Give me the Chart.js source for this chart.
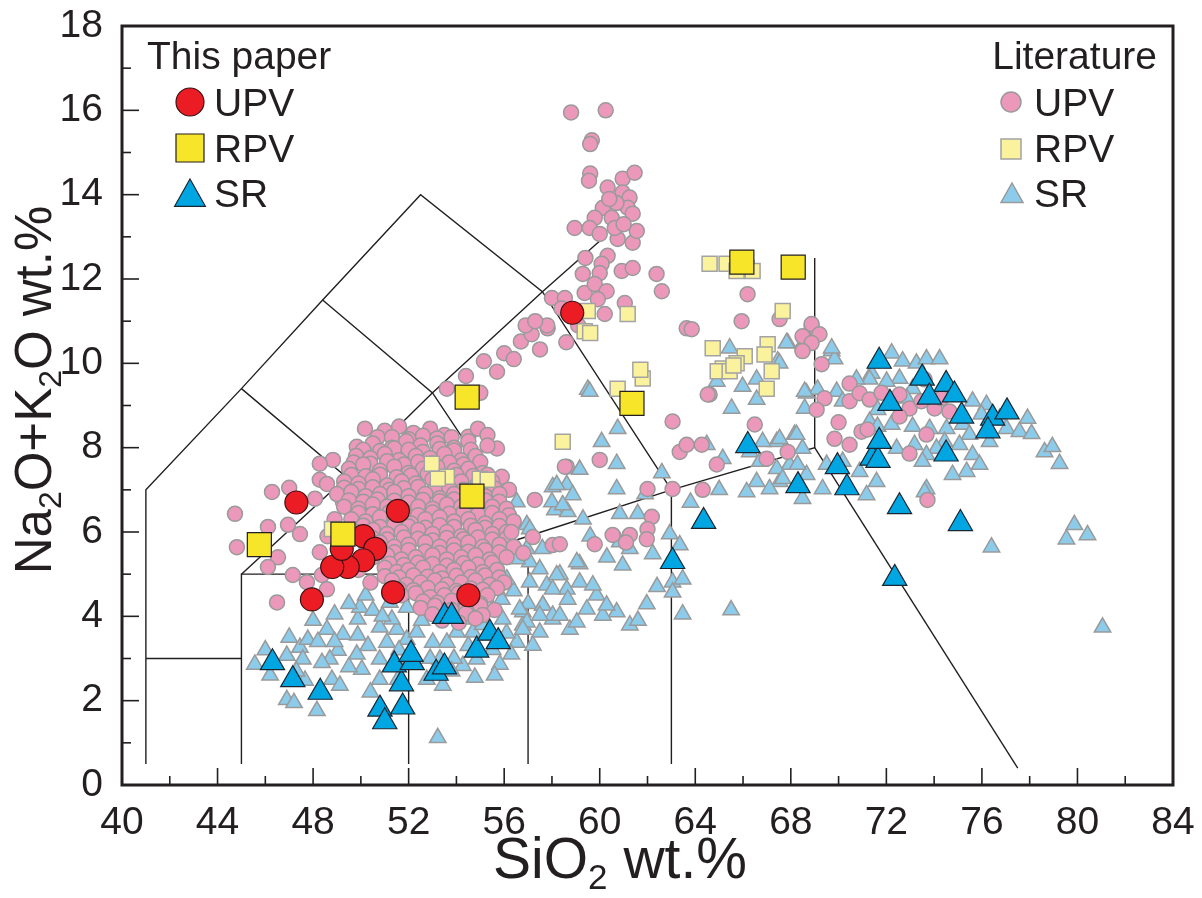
<!DOCTYPE html>
<html>
<head>
<meta charset="utf-8">
<script src="https://cdn.jsdelivr.net/npm/chart.js@4.4.1/dist/chart.umd.min.js"></script>
<style>
  html, body { margin: 0; padding: 0; background: #fff; }
  canvas { display: block; }
</style>
</head>
<body>
<canvas id="tas" width="1202" height="898"></canvas>
<script>
// --- data (SiO2, Na2O+K2O) ---
const xTicks = [40, 44, 48, 52, 56, 60, 64, 68, 72, 76, 80, 84];
const yTicks = [0, 2, 4, 6, 8, 10, 12, 14, 16, 18];

const thisUPV = [[47.3,6.7],[51.55,6.5],[50.1,5.9],[50.6,5.6],[50.1,5.33],[49.45,5.17],[48.8,5.17],
  [49.2,5.6],[47.95,4.4],[51.35,4.57],[54.5,4.5],[58.85,11.2]];
const thisRPV = [[45.75,5.7],[49.25,5.95],[54.45,9.2],[54.65,6.85],[61.35,9.05],[65.95,12.4],[68.1,12.28]];
const thisSR = [[46.3,2.9],[47.15,2.5],[48.3,2.2],[50.8,1.8],[51.0,1.5],[51.75,1.85],[51.7,2.4],[51.4,2.85],
  [52.15,2.9],[52.1,3.1],[53.15,2.65],[53.5,2.8],[53.5,4.0],[53.8,4.0],[54.85,3.2],[55.4,3.6],[55.75,3.4],
  [63.05,5.3],[64.35,6.25],[66.2,8.05],[68.3,7.1],[70.35,7.05],[69.95,7.55],[71.4,7.75],[71.65,7.7],
  [71.7,8.15],[71.7,10.05],[72.15,9.05],[73.5,9.65],[74.5,9.5],[74.85,9.25],[73.8,9.2],[75.15,8.75],
  [76.45,8.7],[77.05,8.85],[76.25,8.4],[74.5,7.85],[72.55,6.6],[75.1,6.2],[72.35,4.9]];

const litUPV = [
  // high-alkali group
  [58.8,15.95],[60.25,16.0],[59.67,15.29],[59.6,15.2],[59.6,14.5],[59.55,14.33],[60.33,14.17],[60.96,14.38],
  [61.46,14.52],[60.96,14.05],[61.25,13.93],[60.13,13.69],[61.17,13.69],[60.5,13.45],[59.79,13.45],[61.38,13.55],
  [58.95,13.21],[59.58,13.21],[60.0,13.07],[60.75,12.95],[61.38,12.86],[61.55,13.14],[60.63,13.21],[60.7,13.8],
  [61.0,13.3],[60.4,13.9],[60.33,12.55],[60.08,12.36],[59.29,12.12],[60.0,12.14],[60.92,12.19],[61.38,12.26],
  [62.38,12.12],[62.6,11.71],[59.37,11.67],[59.79,11.88],[60.29,11.71],[59.92,11.52],[60.21,11.17],[58.0,11.55],
  [58.54,11.55],[61.05,11.43],[57.82,10.83],[63.64,10.83],[58.4,11.3],[59.1,10.9],[58.6,10.5],[59.4,12.5],
  [53.6,9.4],[54.4,9.7],[55.15,10.05],[56.0,10.24],[56.7,10.52],[57.15,10.69],[57.5,10.33],[56.4,10.1],
  [55.7,9.8],[57.8,10.9],[55.0,9.3],[56.9,10.9],[57.3,11.0],
  // scattered around the basaltic group
  [50.17,8.45],[49.83,8.02],[48.83,7.71],[48.28,7.62],[48.28,7.24],[48.58,7.14],[46.28,6.95],[44.73,6.43],
  [46.11,6.12],[46.95,6.17],[47.45,5.95],[44.81,5.64],[46.53,5.4],[46.11,5.17],[47.15,4.98],[47.74,4.81],
  [48.37,4.98],[48.58,4.64],[46.49,4.33],[48.28,5.52],[48.08,6.79],[49.25,6.71],[47.0,7.05],[48.9,6.3],[48.6,5.9],
  [54.5,8.26],[54.9,8.45],[55.3,8.3],[55.7,7.98],[55.3,8.05],[55.9,7.31],[55.4,6.83],[56.2,7.0],
  // dense basaltic group
  [51.0,8.4],[51.6,8.5],[52.2,8.35],[52.9,8.45],[53.5,8.3],
  [50.7,8.25],[51.3,8.25],[52.0,8.2],[52.6,8.28],[53.2,8.22],[53.8,8.25],
  [50.5,8.1],[51.3,8.0],[51.9,8.15],[52.5,8.05],[53.2,8.1],[53.9,8.0],[54.5,8.15],
  [50.1,7.95],[50.8,7.92],[51.4,7.98],[52.0,7.95],[52.6,7.9],[53.3,7.97],[53.9,7.93],[54.6,7.95],
  [49.8,7.8],[50.4,7.75],[51.0,7.85],[51.6,7.7],[52.3,7.8],[52.9,7.75],[53.5,7.85],[54.2,7.7],[54.8,7.8],
  [49.7,7.65],[50.4,7.62],[51.1,7.68],[51.8,7.6],[52.4,7.66],[53.0,7.63],[53.7,7.65],[54.3,7.6],[55.0,7.66],
  [49.5,7.5],[50.1,7.6],[50.8,7.45],[51.4,7.55],[52.0,7.4],[52.6,7.5],[53.2,7.55],[53.9,7.45],[54.5,7.5],[55.1,7.4],
  [49.6,7.35],[50.2,7.32],[50.8,7.36],[51.5,7.3],[52.1,7.34],[52.8,7.38],[53.4,7.3],[54.0,7.35],[54.7,7.33],[55.3,7.36],
  [49.3,7.2],[49.9,7.15],[50.5,7.25],[51.1,7.1],[51.7,7.2],[52.3,7.15],[53.0,7.25],[53.6,7.1],[54.2,7.2],[54.9,7.15],[55.5,7.2],
  [49.3,7.05],[49.9,7.02],[50.5,7.06],[51.2,7.0],[51.8,7.04],[52.4,7.07],[53.1,7.02],[53.7,7.05],[54.3,7.0],[55.0,7.05],[55.6,7.03],
  [49.0,6.9],[49.6,6.95],[50.2,6.85],[50.8,6.9],[51.4,6.95],[52.0,6.85],[52.7,6.9],[53.3,6.8],[53.9,6.9],[54.5,6.95],[55.2,6.85],[55.8,6.9],
  [49.5,6.75],[50.1,6.72],[50.7,6.77],[51.4,6.74],[52.0,6.7],[52.6,6.76],[53.3,6.73],[53.9,6.77],[54.5,6.72],[55.2,6.75],[55.8,6.72],
  [49.3,6.6],[49.9,6.55],[50.5,6.65],[51.1,6.6],[51.8,6.5],[52.4,6.6],[53.0,6.55],[53.6,6.65],[54.2,6.6],[54.8,6.5],[55.5,6.6],[56.1,6.55],
  [49.9,6.45],[50.5,6.42],[51.2,6.47],[51.8,6.44],[52.4,6.4],[53.0,6.46],[53.7,6.43],[54.3,6.47],[54.9,6.42],[55.5,6.45],[56.2,6.4],
  [49.6,6.3],[50.2,6.25],[50.8,6.35],[51.4,6.3],[52.1,6.2],[52.7,6.3],[53.3,6.35],[53.9,6.25],[54.5,6.3],[55.2,6.2],[55.8,6.3],[56.4,6.25],
  [50.1,6.15],[50.8,6.12],[51.4,6.17],[52.0,6.13],[52.7,6.1],[53.3,6.16],[53.9,6.12],[54.6,6.15],[55.2,6.1],[55.8,6.14],
  [49.8,6.0],[50.5,6.05],[51.1,5.95],[51.7,6.0],[52.4,6.05],[53.0,5.95],[53.6,6.0],[54.2,5.9],[54.8,6.05],[55.5,5.95],[56.1,6.0],
  [50.5,5.85],[51.1,5.82],[51.8,5.87],[52.4,5.84],[53.0,5.8],[53.6,5.86],[54.3,5.83],[54.9,5.87],[55.5,5.82],[56.1,5.85],
  [50.2,5.7],[50.8,5.75],[51.4,5.65],[52.0,5.7],[52.7,5.75],[53.3,5.65],[53.9,5.7],[54.5,5.75],[55.1,5.65],[55.8,5.7],[56.4,5.65],
  [50.8,5.55],[51.4,5.52],[52.0,5.57],[52.7,5.54],[53.3,5.5],[53.9,5.56],[54.5,5.53],[55.2,5.57],[55.8,5.52],
  [50.5,5.4],[51.1,5.45],[51.7,5.35],[52.3,5.4],[53.0,5.45],[53.6,5.35],[54.2,5.4],[54.8,5.45],[55.4,5.35],[56.1,5.4],
  [51.2,5.25],[51.8,5.22],[52.4,5.27],[53.0,5.24],[53.6,5.2],[54.3,5.26],[54.9,5.23],[55.5,5.27],
  [49.9,5.1],[51.0,5.15],[51.5,5.05],[52.0,5.1],[52.6,5.15],[53.3,5.05],[53.9,5.1],[54.5,5.15],[55.1,5.05],[55.7,5.1],
  [51.0,4.95],[51.6,4.92],[52.2,4.97],[52.8,4.94],[53.4,4.9],[54.0,4.96],[54.6,4.93],[55.2,4.97],[55.8,4.92],
  [50.4,4.8],[51.3,4.85],[51.9,4.75],[52.5,4.8],[53.1,4.85],[53.6,4.75],[54.2,4.8],[54.8,4.85],[55.4,4.75],[56.0,4.8],
  [51.6,4.65],[52.2,4.62],[52.8,4.67],[53.4,4.64],[54.0,4.6],[54.6,4.66],[55.1,4.63],[55.7,4.67],
  [51.7,4.5],[52.3,4.55],[52.9,4.45],[53.5,4.5],[54.1,4.55],[54.7,4.45],[55.3,4.5],
  [52.6,4.35],[53.2,4.32],[53.8,4.37],[54.4,4.34],[55.0,4.3],
  [52.5,4.2],[53.1,4.25],[53.8,4.15],[54.4,4.2],[55.0,4.25],[55.6,4.15],
  [53.0,4.05],[53.7,4.02],[54.4,4.07],[55.1,4.03],
  [53.4,3.9],[54.1,3.85],[54.8,3.95],
  // intermediate
  [58.62,7.55],[60.0,7.71],[57.28,6.76],[62.0,7.02],[63.05,7.02],[64.31,7.0],[64.6,9.26],[63.05,8.62],
  [63.35,7.9],[64.27,8.07],[63.64,8.07],[64.9,7.6],[62.18,6.36],[62.0,6.07],[60.54,5.93],[61.26,5.93],
  [61.97,5.83],[59.79,5.71],[61.1,5.75],[58.03,5.69],[58.33,5.71],[57.2,5.88],[58.54,7.55],[56.3,6.0],[56.8,5.5],
  [66.19,11.64],[65.94,11.0],[63.85,10.81],[67.53,11.05],[68.87,10.88],[69.08,10.69],[68.58,10.6],[68.49,10.33],
  [69.29,9.98],[64.52,9.26],[66.49,8.55],[68.87,10.93],[68.49,10.64],[69.2,10.69],[68.87,10.48],[68.49,10.29],
  // silicic
  [70.46,9.52],[69.41,9.17],[69.08,8.9],[70.46,9.1],[70.88,9.29],[71.3,9.14],[69.83,8.21],[70.46,8.07],
  [70.96,8.38],[71.21,8.43],[72.55,9.26],[72.97,8.93],[73.47,9.1],[74.02,8.93],[73.6,9.62],[72.55,8.74],
  [73.68,8.31],[72.97,7.86],[67.87,7.9],[66.99,7.74],[73.72,6.76],[74.64,8.86],[74.31,9.17],[70.0,8.6],[71.8,9.3]
];

const litRPV = [[59.5,11.24],[61.17,11.17],[59.37,10.76],[59.6,10.72],[64.6,12.36],[65.31,12.36],[66.15,12.26],
  [66.4,12.19],[65.73,12.19],[67.66,11.24],[64.73,10.36],[67.03,10.45],[66.9,10.21],[66.07,10.17],[65.73,10.0],
  [65.15,9.88],[64.94,9.81],[65.44,9.81],[67.2,9.81],[66.99,9.4],[61.8,9.64],[60.75,9.4],[58.45,8.14],
  [52.97,7.62],[53.6,7.31],[53.22,7.26],[54.98,7.26],[55.31,7.24],[48.79,6.07],[61.7,9.85],[65.6,9.95]];

const litSR = [
  [45.56,2.86],[46.9,3.07],[47.45,3.26],[47.78,3.45],[48.58,3.69],[49.25,3.57],[49.87,3.93],[49.96,4.21],
  [50.5,4.14],[49.87,3.55],[49.83,3.1],[49.04,3.19],[48.7,2.98],[48.37,2.9],[47.57,2.98],[47.66,2.48],
  [46.9,2.02],[48.16,1.76],[48.79,2.5],[49.12,2.36],[50.04,2.74],[50.79,2.98],[51.09,3.38],[50.79,3.74],
  [51.51,3.69],[51.92,3.45],[51.3,3.93],[52.34,3.62],[52.55,3.9],[53.01,3.38],[53.6,3.38],[53.31,2.98],
  [53.43,2.36],[52.76,2.5],[51.55,2.5],[50.79,2.5],[53.22,1.12],[54.77,2.55],[54.27,2.83],[54.85,2.98],
  [55.82,2.86],[55.52,3.21],[56.53,3.38],[57.2,3.31],[57.49,3.62],[56.78,3.79],[56.78,4.1],[57.62,4.26],
  [58.03,3.93],[54.02,3.62],[54.69,3.62],[54.44,3.93],[55.52,4.17],[52.76,4.26],[51.92,4.21],[51.21,4.33],
  [47.0,3.5],[46.2,2.6],[48.0,3.9],[48.9,4.05],[50.3,3.3],[50.2,4.5],[52.0,3.0],[55.1,3.8],[56.1,3.6],
  [55.9,4.4],[53.9,3.0],[46.0,3.2],[47.2,1.95],[49.5,2.8],
  [48.2,3.4],[49.5,4.3],[50.9,4.0],[51.6,3.2],[52.9,3.0],[53.4,4.1],[54.5,3.3],[55.6,2.6],[56.3,3.1],
  [57.0,4.3],[56.4,4.6],[48.9,3.4],[47.3,2.7],[50.4,2.2],[53.8,2.7],
  [59.5,9.38],[60.75,8.45],[60.08,8.14],[60.71,7.62],[59.16,7.48],[58.03,7.07],[58.62,7.12],[58.87,6.88],
  [60.71,7.02],[58.12,6.52],[58.66,6.48],[60.84,6.43],[61.59,6.43],[60.84,5.76],[61.26,5.6],[60.96,5.21],
  [62.22,5.48],[62.93,5.95],[63.35,5.69],[63.05,4.81],[63.47,4.88],[63.05,4.57],[63.47,4.05],[61.97,4.29],
  [61.26,3.79],[60.71,4.1],[59.87,4.5],[59.16,5.24],[58.33,5.0],[57.78,4.74],[58.62,4.64],[59.46,4.17],
  [60.13,4.02],[57.07,5.29],[57.07,4.81],[57.62,4.26],[58.03,4.02],[58.75,3.69],[56.95,3.86],[64.31,6.31],
  [56.95,6.17],[59.58,9.33],[58.2,7.12],[58.0,6.71],[58.45,6.64],[56.53,6.71],[55.94,6.4],[57.07,6.07],
  [56.23,5.83],[56.95,5.6],[56.53,5.36],[57.49,5.12],[58.2,4.98],[59.04,5.29],[59.16,4.81],[59.71,4.74],
  [60.29,4.26],[58.66,4.4],[58.03,4.64],[56.11,4.88],[55.52,5.12],[55.69,4.64],[56.65,4.17],[57.49,4.02],
  [58.33,4.02],[59.04,3.86],[55.94,3.93],[56.78,3.69],[55.3,5.6],[55.8,6.0],[57.6,5.6],[59.6,5.9],[60.3,5.4],
  [59.3,6.3],[62.4,4.7],[65.5,4.15],[61.6,3.9],
  [67.87,10.48],[69.71,10.29],[69.83,10.1],[68.66,9.29],[69.12,9.38],[69.92,9.33],[70.17,9.1],[72.22,10.24],
  [72.68,10.05],[72.55,9.64],[73.26,10.0],[73.68,10.1],[74.23,10.1],[71.38,9.76],[71.3,9.62],[72.01,9.57],
  [70.75,9.62],[73.1,9.4],[72.85,9.17],[71.63,8.9],[71.3,8.62],[71.63,8.5],[72.22,8.55],[73.1,8.5],
  [73.81,8.45],[74.52,8.45],[75.19,8.55],[75.61,9.1],[76.19,9.02],[75.98,8.79],[76.74,8.69],[77.03,8.45],
  [77.57,8.38],[77.91,8.69],[78.08,8.33],[75.48,8.31],[76.32,8.14],[75.06,8.07],[74.44,8.14],[74.1,7.98],
  [73.68,7.83],[73.18,8.07],[72.43,7.98],[75.61,7.83],[75.9,7.6],[75.36,7.43],[74.77,7.36],[73.51,7.67],
  [78.62,7.9],[78.95,8.02],[79.25,7.62],[73.68,7.02],[79.87,6.17],[80.42,5.93],[79.54,5.83],[76.4,5.64],
  [81.05,3.74],[67.45,10.05],[68.58,8.93],[68.16,8.31],[67.41,8.14],[68.49,7.98],[67.95,7.6],[67.53,7.19],
  [68.66,7.36],[69.5,7.6],[70.17,7.67],[70.88,7.43],[71.59,7.19],[69.33,7.02],[71.17,6.88],[73.6,6.95],
  [65.44,10.36],[65.52,8.93],[67.82,10.48],[69.71,10.36],[68.58,9.33],[64.9,9.57],[65.98,9.45],[66.57,9.62],
  [66.57,9.14],[67.53,10.0],[67.53,8.21],[68.24,8.31],[66.82,8.14],[66.28,7.9],[66.7,7.67],[67.41,7.5],
  [68.28,7.6],[66.57,7.19],[67.11,7.02],[65.15,7.74],[66.15,6.95],[68.49,6.79],[67.66,7.26],[64.48,8.07],
  [62.6,7.4],[61.9,6.9],[65.0,7.0],[63.8,6.7]
];

// TAS field boundaries (Le Bas et al., 1986)
const tasLines = [
  [[41,0.5],[41,7],[45,9.4],[48.4,11.5],[52.5,14],[57.6,11.7],[63,7]],
  [[41,3],[45,3]],
  [[45,0.5],[45,5],[52,5]],
  [[45,5],[49.4,7.3],[53,9.3],[57.6,11.7],[60,12.9]],
  [[45,9.4],[49.4,7.3],[52,5]],
  [[48.4,11.5],[53,9.3],[57,5.9]],
  [[52,0.5],[52,5],[57,5.9],[63,7],[69,8],[69,12.5]],
  [[57,0.5],[57,5.9]],
  [[63,0.5],[63,7]],
  [[69,8],[77.5,0.4]]
];

const INK = '#231f20';
const SANS = "'Liberation Sans', Arial, sans-serif";

const pts = (arr) => arr.map(([x, y]) => ({ x, y }));

const tasPlugin = {
  id: 'tasLines',
  beforeDatasetsDraw(chart) {
    const { ctx, scales: { x, y } } = chart;
    ctx.save();
    ctx.strokeStyle = INK;
    ctx.lineWidth = 1.4;
    tasLines.forEach((line) => {
      ctx.beginPath();
      line.forEach(([sx, sy], i) => {
        const px = x.getPixelForValue(sx);
        const py = y.getPixelForValue(sy);
        if (i === 0) ctx.moveTo(px, py); else ctx.lineTo(px, py);
      });
      ctx.stroke();
    });
    ctx.restore();
  },
};

// text with subscripts, parts: [text, isSub]
const drawRich = (ctx, parts, size, cx, cy) => {
  const subSize = Math.round(size * 0.62);
  let total = 0;
  parts.forEach(([t, sub]) => {
    ctx.font = (sub ? subSize : size) + 'px ' + SANS;
    total += ctx.measureText(t).width;
  });
  let xx = cx - total / 2;
  ctx.textAlign = 'left';
  ctx.textBaseline = 'alphabetic';
  parts.forEach(([t, sub]) => {
    ctx.font = (sub ? subSize : size) + 'px ' + SANS;
    ctx.fillText(t, xx, cy + (sub ? size * 0.2 : 0));
    xx += ctx.measureText(t).width;
  });
};

const marker = (ctx, kind, cx, cy, r, fill, stroke, lw) => {
  ctx.beginPath();
  if (kind === 'circle') {
    ctx.arc(cx, cy, r, 0, Math.PI * 2);
  } else if (kind === 'rect') {
    ctx.rect(cx - r, cy - r, 2 * r, 2 * r);
  } else {
    ctx.moveTo(cx, cy - r);
    ctx.lineTo(cx + r * 1.1, cy + r * 0.95);
    ctx.lineTo(cx - r * 1.1, cy + r * 0.95);
    ctx.closePath();
  }
  ctx.fillStyle = fill;
  ctx.fill();
  ctx.strokeStyle = stroke;
  ctx.lineWidth = lw;
  ctx.stroke();
};

const framePlugin = {
  id: 'frame',
  afterDraw(chart) {
    const { ctx, chartArea: a, scales: { x, y } } = chart;
    ctx.save();
    ctx.strokeStyle = INK;
    ctx.lineWidth = 1.6;
    // inward ticks
    for (let v = 40; v <= 84; v += 2) {
      const px = x.getPixelForValue(v);
      const len = v % 4 === 0 ? 17 : 9;
      ctx.beginPath();
      ctx.moveTo(px, a.bottom);
      ctx.lineTo(px, a.bottom - len);
      ctx.stroke();
    }
    for (let v = 0; v <= 18; v += 1) {
      const py = y.getPixelForValue(v);
      const len = v % 2 === 0 ? 17 : 9;
      ctx.beginPath();
      ctx.moveTo(a.left, py);
      ctx.lineTo(a.left + len, py);
      ctx.stroke();
    }
    ctx.lineWidth = 3;
    ctx.strokeRect(a.left, a.top, a.right - a.left, a.bottom - a.top);

    // axis titles
    ctx.fillStyle = INK;
    drawRich(ctx, [['SiO', false], ['2', true], [' wt.%', false]], 57, 620, 878);
    ctx.save();
    ctx.translate(51, 390);
    ctx.rotate(-Math.PI / 2);
    drawRich(ctx, [['Na', false], ['2', true], ['O+K', false], ['2', true], ['O wt.%', false]], 51, 0, 0);
    ctx.restore();

    // legends: markers first, text after
    marker(ctx, 'circle', 190, 102, 14, '#ec1c24', '#3b1214', 1.2);
    marker(ctx, 'rect', 190, 148, 14, '#f6e528', '#231f20', 1.2);
    marker(ctx, 'tri', 190, 193, 14, '#00a6e2', '#1c2630', 1.2);
    marker(ctx, 'circle', 1011, 102, 10, '#ec98bb', '#9a9a9a', 1.5);
    marker(ctx, 'rect', 1011, 149, 10, '#fbf29e', '#a3a3a3', 1.5);
    marker(ctx, 'tri', 1012, 193, 10, '#8ccbea', '#9a9a9a', 1.5);

    ctx.font = '39px ' + SANS;
    ctx.textBaseline = 'alphabetic';
    ctx.fillStyle = INK;
    ctx.textAlign = 'left';
    ctx.fillText('This paper', 147, 69);
    ctx.fillText('UPV', 214, 116);
    ctx.fillText('RPV', 214, 162);
    ctx.fillText('SR', 214, 207);
    ctx.textAlign = 'right';
    ctx.fillText('Literature', 1157, 69);
    ctx.textAlign = 'left';
    ctx.fillText('UPV', 1034, 116);
    ctx.fillText('RPV', 1034, 162);
    ctx.fillText('SR', 1034, 207);
    ctx.restore();
  },
};

const ds = (data, style, r, fill, stroke, lw) => ({
  data: pts(data),
  pointStyle: style,
  pointRadius: r,
  pointHoverRadius: r,
  backgroundColor: fill,
  borderColor: stroke,
  borderWidth: lw,
  showLine: false,
});

new Chart(document.getElementById('tas'), {
  type: 'scatter',
  data: {
    datasets: [
      ds(thisRPV, 'rect', 17, '#f6e528', '#231f20', 1.2),
      ds(thisUPV, 'circle', 11.5, '#ec1c24', '#3b1214', 1.2),
      ds(thisSR, 'triangle', 14, '#00a6e2', '#1c2630', 1.2),
      ds(litRPV, 'rect', 10.6, '#fbf29e', '#a3a3a3', 1.5),
      ds(litUPV, 'circle', 7.5, '#ec98bb', '#9a9a9a', 1.5),
      ds(litSR, 'triangle', 9.5, '#8ccbea', '#9a9a9a', 1.5),
    ],
  },
  options: {
    responsive: false,
    animation: false,
    events: [],
    layout: { padding: { top: 26, right: 29, left: 0, bottom: 0 } },
    plugins: { legend: { display: false }, tooltip: { enabled: false } },
    scales: {
      x: {
        type: 'linear',
        min: 40,
        max: 84,
        afterBuildTicks: (s) => { s.ticks = xTicks.map((v) => ({ value: v })); },
        afterFit: (s) => { s.height = 113; s.paddingLeft = 0; s.paddingRight = 0; },
        grid: { display: false },
        border: { display: false },
        ticks: { color: INK, padding: 7, maxRotation: 0, font: { family: SANS, size: 39 } },
      },
      y: {
        min: 0,
        max: 18,
        afterBuildTicks: (s) => { s.ticks = yTicks.map((v) => ({ value: v })); },
        afterFit: (s) => { s.width = 122; s.paddingTop = 0; s.paddingBottom = 0; },
        grid: { display: false },
        border: { display: false },
        ticks: { color: INK, padding: 11, font: { family: SANS, size: 39 } },
      },
    },
  },
  plugins: [tasPlugin, framePlugin],
});
</script>
</body>
</html>
